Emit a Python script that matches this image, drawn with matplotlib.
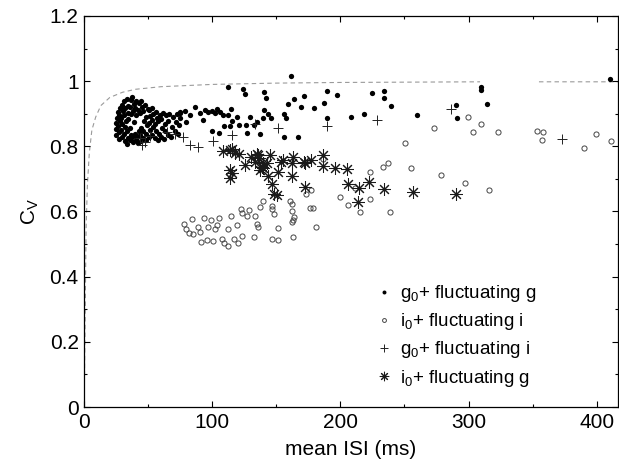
import numpy as np
import matplotlib
matplotlib.use("Agg")
import matplotlib.pyplot as plt
from matplotlib.ticker import MultipleLocator, FormatStrFormatter

plt.rcParams['font.family'] = ['Liberation Sans', 'DejaVu Sans']
plt.rcParams['mathtext.fontset'] = 'custom'
plt.rcParams['mathtext.rm'] = 'Liberation Sans'
plt.rcParams['mathtext.it'] = 'Liberation Sans'

# reference curve (mean ISI, CV), gap where nothing was drawn
curve_isi = [0, 0.8, 1.5, 2.5, 4, 6, 9, 13, 20, 30, 40, 60, 100, 150, 200, 309,
             np.nan, 355, 417]
curve_cv = [0, 0.30, 0.55, 0.68, 0.78, 0.85, 0.89, 0.925, 0.95, 0.966, 0.975,
            0.983, 0.99, 0.994, 0.996, 0.998, np.nan, 0.998, 0.998]

# g0 + fluctuating g  (filled dots), dense cloud at short ISI
gfg_blob = [
    (24.5, .835), (25.2, .852), (24.8, .871), (25.5, .888), (26.1, .905),
    (26.8, .822), (27.3, .843), (26.6, .862), (27.9, .879), (27.2, .897), (28.0, .918),
    (29.4, .828), (28.7, .851), (29.8, .868), (29.1, .886), (30.2, .909), (29.6, .928),
    (31.5, .815), (30.9, .839), (31.8, .858), (32.3, .877), (31.1, .896), (32.0, .917),
    (31.4, .938), (33.6, .808), (34.1, .827), (33.2, .846), (34.5, .884), (33.9, .903),
    (34.4, .924), (33.5, .946), (35.8, .818), (36.3, .836), (35.5, .857), (36.6, .898),
    (35.9, .921), (36.8, .941), (38.2, .812), (37.6, .829), (38.5, .874), (37.9, .908),
    (38.7, .929), (37.4, .951), (40.1, .819), (39.5, .838), (40.6, .896), (39.8, .918),
    (40.4, .939), (42.0, .809), (41.5, .828), (42.6, .848), (41.8, .912), (42.9, .932),
    (44.1, .816), (43.6, .835), (44.7, .857), (43.9, .902), (45.0, .921), (44.3, .938),
    (46.3, .826), (45.8, .846), (46.9, .879), (46.0, .909), (47.2, .927),
    (48.4, .819), (47.9, .838), (49.0, .866), (48.3, .889), (49.6, .916),
    (50.5, .828), (51.1, .849), (50.3, .872), (51.7, .893), (50.8, .911),
    (52.9, .836), (53.6, .858), (52.7, .881), (54.0, .899), (53.3, .918),
    (55.4, .826), (56.0, .847), (55.1, .869), (56.5, .887), (55.8, .906),
    (57.8, .818), (58.4, .839), (57.5, .878), (58.9, .897),
    (60.2, .829), (60.9, .856), (60.0, .884), (61.4, .903),
    (62.6, .821), (63.3, .846), (62.8, .868), (63.9, .895),
    (65.1, .836), (65.8, .879), (66.4, .898),
    (67.9, .829), (68.6, .859), (69.2, .889),
    (70.8, .846), (71.5, .876), (72.1, .899),
    (73.6, .839), (74.3, .866), (75.0, .887), (74.6, .906),
]
gfg_rest = [
    (74.9, .903), (78.8, .909), (82.7, .896), (86.6, .921), (90.5, .901),
    (94.4, .912), (97, .905), (99.6, .909), (102.2, .901), (103.5, .914),
    (106.1, .906), (108.7, .896), (79.5, .876), (93, .881),
    (112, .981), (124, .976), (125.5, .961), (140.6, .967), (142, .947),
    (161.4, 1.016), (158.8, .931), (163.7, .944), (169, .922), (171.5, .955),
    (179.3, .919), (187.4, .932), (155.7, .899), (157.3, .888), (140.4, .912),
    (143.7, .898), (145.8, .886), (139.3, .886), (129.2, .891), (134.9, .876),
    (132.8, .866), (126.3, .866), (126.8, .842), (121.1, .865), (119.5, .891),
    (114.6, .914), (112.5, .896), (115.6, .879), (113.6, .862), (109.2, .862),
    (105, .842), (99.5, .848), (137, .838), (156, .828), (167, .830),
    (189.7, .970), (197.5, .957), (189.2, .888), (208.4, .889), (218.3, .899),
    (224.6, .963), (233.9, .970), (233.7, .948), (239.4, .924), (259.4, .897),
    (290, .928), (290.9, .888), (309.8, .981), (309.8, .973), (314.5, .929),
    (410.7, 1.006),
]

# i0 + fluctuating i  (open circles)
ifi = [
    (84, .576), (78, .561), (79.5, .546), (82.1, .533), (85.2, .530), (88.6, .551),
    (90.4, .538), (93.6, .580), (96.9, .551), (98.9, .574), (103.4, .559),
    (105, .579), (102.1, .545), (91, .505), (96.1, .512), (100.8, .510),
    (107.3, .517), (109.2, .502), (112.5, .494), (117, .515), (120.3, .502),
    (123, .525), (112, .545), (119, .559), (114.6, .586), (122.4, .608),
    (123, .596), (128.9, .605), (126.8, .586), (133.3, .586), (134.7, .562),
    (135.9, .551), (132.6, .521), (137.2, .615), (139.8, .631), (146.3, .617),
    (146.8, .609), (148.1, .592), (151.5, .548), (146.3, .515), (151.5, .513),
    (160.6, .633), (161.9, .623), (161.9, .600), (162.7, .574), (163.7, .584),
    (162, .568), (163.2, .523), (176.2, .612), (178.3, .610), (180.9, .553),
    (173.1, .654), (176.7, .666), (186.6, .760), (199.4, .644), (206.1, .621),
    (211.3, .671), (215.2, .597), (222.8, .720), (223, .637), (232.9, .736),
    (236.8, .748), (238.8, .598), (255, .733), (278.4, .711), (297.1, .687),
    (315.8, .666), (250.5, .811), (273.1, .857), (299.7, .891), (309.8, .869),
    (303.6, .845), (323.3, .845), (353.5, .846), (358.1, .844), (357.1, .818),
    (399.7, .838), (389.9, .794), (410.9, .817),
]

# g0 + fluctuating i  (plus)
gfi = [
    (43.7, .826), (45, .804), (47.6, .814), (51.5, .832), (64.5, .845),
    (71, .838), (77, .830), (82.6, .804), (89.1, .797), (100.8, .817),
    (115.2, .835), (133, .868), (151.5, .855), (189.2, .862), (228.2, .881),
    (286.7, .915), (372.9, .824),
]

# i0 + fluctuating g  (asterisk)
ifg = [
    (108.6, .786), (113.8, .789), (117.7, .781), (121.1, .777), (130.2, .766),
    (135.9, .773), (145, .773), (154.9, .758), (163.2, .768), (171.5, .753),
    (125.5, .743), (133.3, .753), (139.8, .748), (139.8, .733), (137.2, .727),
    (113.8, .727), (115.2, .717), (113.8, .702), (143.7, .709), (151.5, .722),
    (162.6, .709), (146.3, .684), (148.1, .654), (150.2, .651), (172.3, .674),
    (177, .758), (186.1, .773), (186.6, .741), (195.7, .735), (205.3, .730),
    (205.6, .683), (214.4, .671), (222.2, .689), (233.9, .669), (256.3, .661),
    (290, .654), (213.9, .630), (134.6, .776), (136.7, .763), (154, .753),
    (162.6, .750), (142.4, .748), (138.5, .736), (115.2, .791), (172.3, .748),
]

fig = plt.figure(figsize=(6.19, 4.70), dpi=100)
ax = fig.add_axes([0.136, 0.134, 0.862, 0.832])

ax.plot(curve_isi, curve_cv, color='#9a9a9a', lw=0.8, ls=(0, (4, 3)), zorder=1)

gx, gy = zip(*(gfg_blob + gfg_rest))
ax.plot(gx, gy, ls='none', marker='o', ms=3.8, mfc='black', mec='black',
        mew=0, label=r'g$_0$+ fluctuating g')
cx, cy = zip(*ifi)
ax.plot(cx, cy, ls='none', marker='o', ms=3.7, mfc='none', mec='#444444',
        mew=0.7, label=r'i$_0$+ fluctuating i')
px, py = zip(*gfi)
ax.plot(px, py, ls='none', marker='+', ms=7.5, mec='#222222', mew=0.7,
        label=r'g$_0$+ fluctuating i')
sx, sy = zip(*ifg)
ax.plot(sx, sy, ls='none', marker=(8, 2, 0), ms=9, mec='#1a1a1a', mew=0.75,
        label=r'i$_0$+ fluctuating g')

ax.set_xlim(0, 416.5)
ax.set_ylim(0, 1.2)
ax.xaxis.set_major_locator(MultipleLocator(100))
ax.xaxis.set_minor_locator(MultipleLocator(50))
ax.yaxis.set_major_locator(MultipleLocator(0.2))
ax.yaxis.set_minor_locator(MultipleLocator(0.1))
ax.yaxis.set_major_formatter(FormatStrFormatter('%g'))
ax.tick_params(which='both', direction='in', top=True, right=True,
               labelsize=15, width=0.8)
ax.tick_params(which='major', length=4.5, pad=4)
ax.tick_params(which='minor', length=2.5)
for s in ax.spines.values():
    s.set_linewidth(0.9)

ax.set_xlabel('mean ISI (ms)', fontsize=15, labelpad=6)
ax.set_ylabel(r'C$_\mathrm{V}$', fontsize=15, labelpad=6)

ax.legend(loc='upper left', bbox_to_anchor=(0.53, 0.336), frameon=False,
          fontsize=13.5, handlelength=1.0, handletextpad=0.35, labelspacing=0.38,
          markerscale=0.75, borderaxespad=0)

fig.savefig('out.png', dpi=100)
